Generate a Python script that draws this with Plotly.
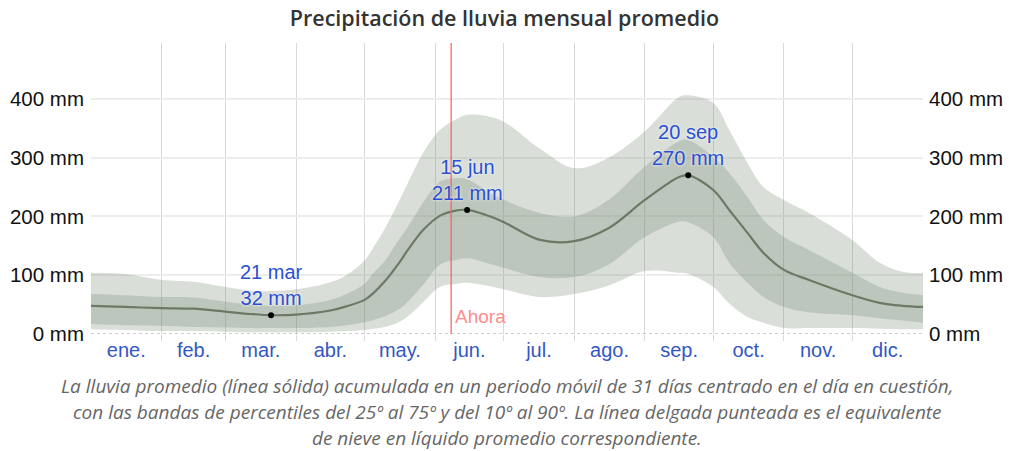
import plotly.graph_objects as go

# ---- data (day of year, mm) ----
days = [0, 15, 31, 45, 59, 70, 79, 90, 105, 112, 120, 124, 129, 135, 139, 146, 153, 160, 165, 179, 197,
        212, 227, 243, 258, 262, 273, 280, 288, 295, 304, 315, 334, 346, 356, 365]
p10  = [8, 7, 5, 5, 4, 3, 3, 3, 4, 5, 7, 9, 12, 20, 30, 55, 80, 85, 87, 78, 63,
        68, 82, 107, 104, 102, 80, 52, 29, 19, 10, 10, 10, 9, 8, 8]
p25  = [17, 15, 14, 12, 11, 10, 10, 10, 12, 15, 20, 24, 30, 42, 55, 85, 118, 126, 129, 115, 97,
        97, 118, 165, 191, 190, 165, 121, 87, 63, 46, 37, 32, 27, 23, 19]
mean = [48, 46, 44, 43, 38, 34, 32, 33, 40, 47, 58, 70, 90, 120, 143, 178, 201, 210, 211, 194, 160,
        158, 180, 228, 267, 270, 245, 211, 172, 138, 109, 92, 66, 53, 48, 46]
p75  = [68, 66, 63, 62, 55, 50, 48, 49, 58, 68, 85, 104, 125, 160, 182, 225, 259, 265, 263, 232, 206,
        200, 228, 285, 328, 330, 301, 274, 233, 194, 165, 143, 104, 80, 70, 66]
p90  = [104, 102, 92, 89, 80, 74, 73, 76, 88, 100, 125, 148, 180, 225, 257, 310, 347, 365, 373, 365, 315,
        282, 300, 345, 403, 406, 393, 347, 291, 250, 228, 206, 160, 121, 106, 104]

month_labels = ["ene.", "feb.", "mar.", "abr.", "may.", "jun.", "jul.", "ago.", "sep.", "oct.", "nov.", "dic."]
month_lengths = [31, 28, 31, 30, 31, 30, 31, 31, 30, 31, 30, 31]

peak_days = [79, 165, 262]
peak_dates = ["21 mar", "15 jun", "20 sep"]
peak_values = [32, 211, 270]

now_day = 158
now_label = "Ahora"

y_ticks = [0, 100, 200, 300, 400]
y_ticktext = [f"{v} mm" for v in y_ticks]

title = "Precipitación de lluvia mensual promedio"
caption = [
    "La lluvia promedio (línea sólida) acumulada en un periodo móvil de 31 días centrado en el día en cuestión,",
    "con las bandas de percentiles del 25º al 75º y del 10º al 90º. La línea delgada punteada es el equivalente",
    "de nieve en líquido promedio correspondiente.",
]

# ---- derived month positions ----
starts = [0]
for L in month_lengths:
    starts.append(starts[-1] + L)
boundaries = starts[1:-1]
mids = [(starts[i] + starts[i + 1]) / 2 for i in range(12)]

W, H = 1009, 451
ml, mr, mt, mb = 91, 86, 43, 117
plot_h = H - mt - mb

band = "rgba(120,135,115,0.28)"
fig = go.Figure()
fig.add_trace(go.Scatter(x=days, y=p10, mode="lines", line=dict(width=0, shape="spline"),
                         hoverinfo="skip", showlegend=False))
fig.add_trace(go.Scatter(x=days, y=p90, mode="lines", line=dict(width=0, shape="spline"),
                         fill="tonexty", fillcolor=band, hoverinfo="skip", showlegend=False))
fig.add_trace(go.Scatter(x=days, y=p25, mode="lines", line=dict(width=0, shape="spline"),
                         hoverinfo="skip", showlegend=False))
fig.add_trace(go.Scatter(x=days, y=p75, mode="lines", line=dict(width=0, shape="spline"),
                         fill="tonexty", fillcolor=band, hoverinfo="skip", showlegend=False))
fig.add_trace(go.Scatter(x=days, y=mean, mode="lines", line=dict(width=2.2, color="#6c7a65", shape="spline"),
                         showlegend=False))
fig.add_trace(go.Scatter(x=peak_days, y=peak_values, mode="markers",
                         marker=dict(color="black", size=6), showlegend=False))
fig.add_trace(go.Scatter(x=[days[0]], y=[0], yaxis="y2", mode="markers",
                         marker=dict(opacity=0), hoverinfo="skip", showlegend=False))
fig.add_trace(go.Scatter(x=[days[0]], y=[0], xaxis="x2", mode="markers",
                         marker=dict(opacity=0), hoverinfo="skip", showlegend=False))

yr = [0, 495]
tickfont = dict(family="Liberation Sans, Arial, sans-serif", size=20.5, color="#111111")

fig.update_layout(
    width=W, height=H,
    margin=dict(l=ml, r=mr, t=mt, b=mb, autoexpand=False),
    paper_bgcolor="white", plot_bgcolor="white",
    title=dict(text=title, x=0.5, xref="container", xanchor="center",
               y=1 - 18 / H, yref="container", yanchor="middle",
               font=dict(family="Open Sans, Noto Sans, sans-serif", size=21.5, color="#333333", weight=600)),
    xaxis=dict(range=[0, 365], tickmode="array", tickvals=boundaries, showticklabels=False,
               showgrid=True, gridcolor="#d8d8d8", gridwidth=1,
               ticks="outside", ticklen=6, tickcolor="#d8d8d8", tickwidth=1,
               showline=False, zeroline=False, fixedrange=True, automargin=False),
    xaxis2=dict(range=[0, 365], overlaying="x", side="bottom", tickmode="array",
                tickvals=mids, ticktext=month_labels, showgrid=False, zeroline=False,
                ticks="", ticklabelstandoff=2, automargin=False,
                tickfont=dict(family="Liberation Sans, Arial, sans-serif", size=20, color="#3358c4")),
    yaxis=dict(range=yr, tickmode="array", tickvals=y_ticks, ticktext=y_ticktext,
               showgrid=True, gridcolor="#ededed", gridwidth=1.5, zeroline=False,
               ticks="", tickfont=tickfont, ticklabelstandoff=6, fixedrange=True, automargin=False),
    yaxis2=dict(range=yr, overlaying="y", side="right", tickmode="array", tickvals=y_ticks,
                ticktext=y_ticktext, showgrid=False, zeroline=False, ticks="",
                tickfont=tickfont, ticklabelstandoff=5, automargin=False),
)

fig.add_shape(type="line", xref="x", yref="y", x0=0, x1=365, y0=0, y1=0,
              line=dict(color="#9a9a9a", width=1, dash="dot"), layer="above")
fig.add_shape(type="line", xref="x", yref="y", x0=now_day, x1=now_day, y0=0, y1=yr[1],
              line=dict(color="#ff5a5a", width=1.2), layer="above")
fig.add_annotation(x=now_day, y=0, xref="x", yref="y", text=now_label, showarrow=False,
                   xanchor="left", yanchor="bottom", xshift=2, yshift=5,
                   font=dict(family="Liberation Sans, Arial, sans-serif", size=19, color="#ff8c8c"))

for d, lbl, v in zip(peak_days, peak_dates, peak_values):
    fig.add_annotation(x=d, y=v, xref="x", yref="y", text=f"{lbl}<br>{v} mm", showarrow=False,
                       xanchor="center", yanchor="bottom", yshift=4,
                       font=dict(family="Liberation Sans, Arial, sans-serif", size=20, color="#2a4fd0",
                                 shadow="0px 0px 3px white"))

for i, line in enumerate(caption):
    ypx = 386 + 26 * i
    fig.add_annotation(x=0.5, xref="paper", y=(H - mb - ypx) / plot_h, yref="paper",
                       text=f"<i>{line}</i>", showarrow=False, xanchor="center", yanchor="middle",
                       font=dict(family="Open Sans, sans-serif", size=19, color="#666666"))

# remove the default 8px page margin so the figure fills the window exactly
fig.write_html("out.html", config={"displayModeBar": False},
               post_script="document.body.style.margin='0';")
